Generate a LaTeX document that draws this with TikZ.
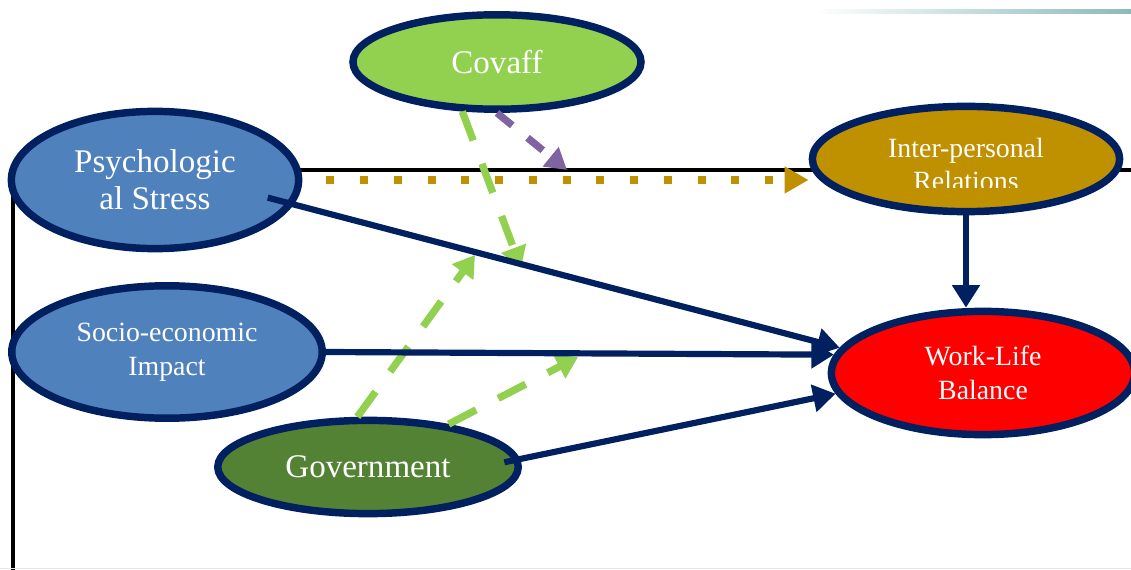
\documentclass[tikz,border=0pt]{standalone}
\usepackage{fontspec}
\setmainfont{Liberation Serif}
\usetikzlibrary{shapes.geometric, arrows.meta}
\definecolor{navy}{RGB}{0,32,96}
\definecolor{steelblue}{RGB}{79,129,189}
\definecolor{govgreen}{RGB}{84,130,53}
\definecolor{covgreen}{RGB}{146,208,80}
\definecolor{ochre}{RGB}{191,144,0}
\definecolor{lilac}{RGB}{128,100,162}
\definecolor{rulecol}{RGB}{140,185,185}
\tikzstyle{var} = [ellipse, draw=navy, line width=5.3pt, inner sep=0pt, text=white, align=center]
\tikzstyle{big} = [font=\fontsize{23.5}{26.2}\selectfont]
\tikzstyle{small} = [font=\fontsize{19.8}{24}\selectfont]
\tikzstyle{effect} = [navy, line width=4.4pt, -{Triangle[length=16pt,width=19pt]}]
\tikzstyle{moder} = [covgreen, line width=5.2pt, dash pattern=on 22pt off 17.7pt, -{Triangle[length=15pt,width=18pt]}]
\tikzstyle{covlink} = [lilac, line width=5.2pt, dash pattern=on 14pt off 14pt, -{Triangle[length=15pt,width=17pt]}]
\tikzstyle{mediate} = [ochre, line width=5.7pt, dash pattern=on 5.7pt off 18.3pt, -{Triangle[length=17pt,width=18pt]}]

\begin{document}
\begin{tikzpicture}[x=0.025cm, y=-0.025cm]
        \useasboundingbox (0,0) rectangle (1131,570);
        \clip (0,0) rectangle (1131,570);
        \draw [line width=2.6pt] (13,580) -- (13,170) -- (1140,170);
        \draw [gray!20, line width=0.7pt] (0,568) -- (1131,568);
        \shade [left color=white, right color=rulecol] (815,10) rectangle (1131,14);

        \node [var, fill=covgreen, minimum width=7.2cm, minimum height=2.36cm, big] at (497,62) (cov) {Covaff};
        \node [var, fill=steelblue, minimum width=7.18cm, minimum height=3.43cm, big] at (155,180) (psy) {Psychologic\\al Stress};
        \node [var, fill=steelblue, minimum width=7.76cm, minimum height=3.31cm, small] at (167,352) (soc) {Socio-economic\\Impact};
        \node [var, fill=govgreen, minimum width=7.51cm, minimum height=2.33cm, big] at (368,467) (gov) {Government};
        \node [var, fill=red, minimum width=7.58cm, minimum height=3.08cm, small] at (983,373) (wlb) {Work-Life\\Balance};
        \node [var, fill=ochre, minimum width=7.68cm, minimum height=2.63cm] at (966,159) (ipr) {};
        \begin{scope}
        \clip (800,100) rectangle (1131,188);
        \node [small, text=white, align=center] at (966,164.5) (iprtext) {Inter-personal\\Relations};
        \end{scope}

        \coordinate (c1) at (521,268);
        \coordinate (c2) at (567,170);
        \coordinate (c3) at (475,255);
        \coordinate (c4) at (578,357);

        \draw [moder] (cov.235) -- (c1);
        \draw [covlink] (cov.south) -- (c2);
        \draw [moder] (gov.102) -- (c3);
        \draw [moder] (gov.28) -- (c4);
        \draw [mediate, shorten <=0.6cm] (psy.east) -- (ipr.west |- psy.east);
        \draw [effect, shorten <=-0.67cm] (psy.-10) -- (wlb.170);
        \draw [effect] (soc.east) -- (wlb.173);
        \draw [effect, shorten <=-0.4cm] (gov.3) -- (wlb.188);
        \draw [effect] (ipr.south) -- (ipr.south |- wlb.north);
        \end{tikzpicture}
\end{document}
